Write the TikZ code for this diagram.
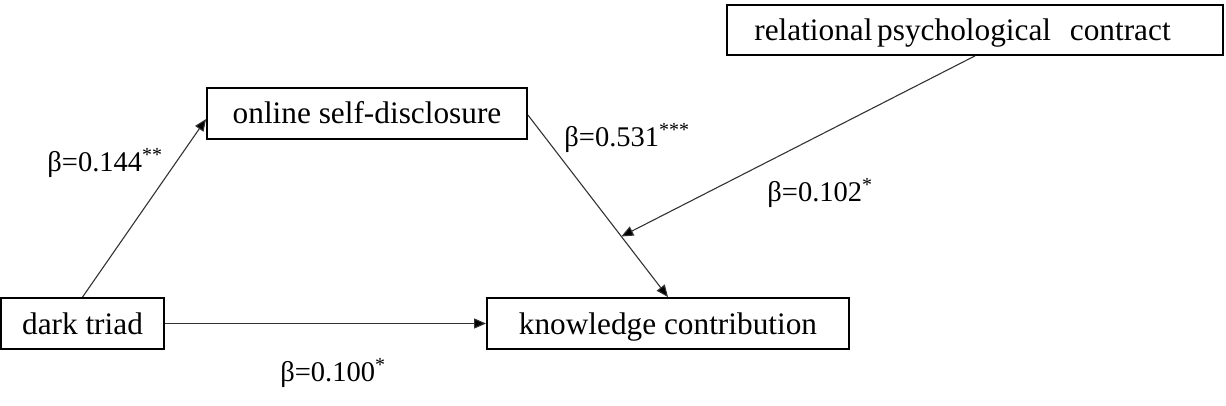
\documentclass[tikz,border=0pt]{standalone}
\usepackage{fontspec}
\setmainfont{Liberation Serif}
\usetikzlibrary{arrows.meta,calc}
\tikzset{
  varbox/.style={draw=black, line width=1.8pt, rectangle, inner sep=0pt,
    minimum height=51pt, text height=21pt, text depth=0pt,
    font=\fontsize{31.3}{36}\selectfont},
  conn/.style={draw=black!80, line width=1.1pt,
    -{Triangle[length=12pt,width=10pt,fill=black]}},
  coef/.style={inner sep=0pt, font=\fontsize{28.5}{32}\selectfont}
}
\begin{document}
\begin{tikzpicture}[x=1pt,y=-1pt]
\useasboundingbox (0,0) rectangle (1226,406);
\node[varbox, minimum width=320pt] (online) at (367,113.5) {online self-disclosure};
\node[varbox, minimum width=496pt, minimum height=50pt] (rel) at (975,30)
  {relational\hspace{0.15em}psychological\hspace{0.6em}contract\hspace*{25pt}};
\node[varbox, minimum width=163pt] (dark) at (82.5,323.5) {dark triad};
\node[varbox, minimum width=362pt] (know) at (668,323.5) {knowledge contribution};

\draw[conn] (dark.east) -- (know.west);
\draw[conn] (dark.north) -- ([yshift=-5.5pt]online.west);
\draw[conn] ([yshift=-1.5pt]online.east) -- (know.north);
\coordinate (m) at ($([yshift=-1.5pt]online.east)!0.667!(know.north)$);
\draw[conn] (rel.south) -- (m);

\node[coef] (c1) at (105,163) {β=0.144\textsuperscript{**}};
\node[coef] (c2) at (627,138) {β=0.531\textsuperscript{***}};
\node[coef] (c3) at (820,193) {β=0.102\textsuperscript{*}};
\node[coef] (c4) at (333,373) {β=0.100\textsuperscript{*}};
\end{tikzpicture}
\end{document}
